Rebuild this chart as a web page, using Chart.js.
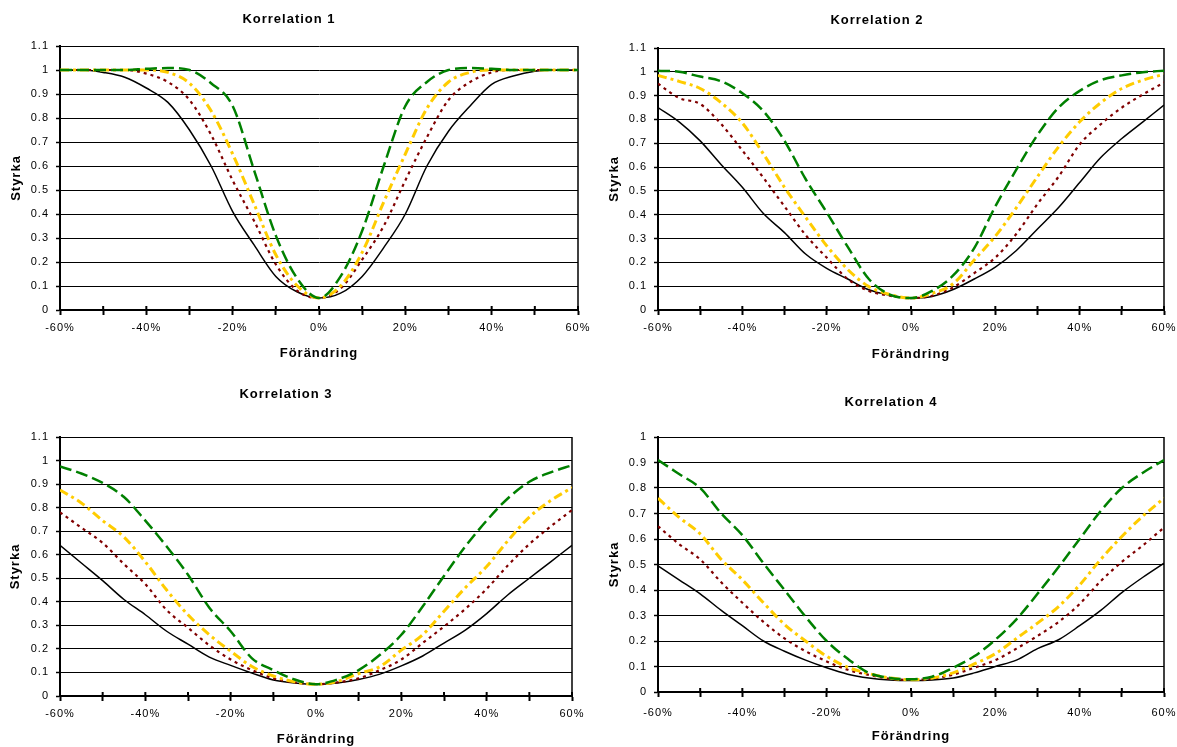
<!DOCTYPE html>
<html><head><meta charset="utf-8">
<script src="https://cdn.jsdelivr.net/npm/chart.js@4.4.1/dist/chart.umd.min.js"></script>
<style>
html,body{margin:0;padding:0;background:#fff;}
#wrap{position:relative;width:1177px;height:747px;overflow:hidden;background:#fff;}
canvas{position:absolute;}
</style></head><body>
<div id="wrap">
<canvas id="c1" width="590" height="372" style="left:0;top:0"></canvas>
<canvas id="c2" width="587" height="372" style="left:590px;top:0"></canvas>
<canvas id="c3" width="590" height="375" style="left:0;top:372px"></canvas>
<canvas id="c4" width="587" height="375" style="left:590px;top:372px"></canvas>
</div>
<script>
// ---- data ----
const changes = [-60,-55,-50,-45,-40,-35,-30,-25,-20,-15,-10,-5,0,5,10,15,20,25,30,35,40,45,50,55,60];
const xTickValues = [-60,-50,-40,-30,-20,-10,0,10,20,30,40,50,60];
const titles = ['Korrelation 1','Korrelation 2','Korrelation 3','Korrelation 4'];
const yAxisTitle = 'Styrka';
const xAxisTitle = 'Förändring';
const yMaxima = [1.1, 1.1, 1.1, 1.0];

const corr1Solid   = [1.0,1.0,0.99,0.97,0.925,0.865,0.75,0.6,0.41,0.27,0.14,0.075,0.05,0.07,0.14,0.26,0.40,0.60,0.745,0.85,0.94,0.975,0.995,1.0,1.0];
const corr1Dotted  = [1.0,1.0,1.0,1.0,0.985,0.95,0.875,0.73,0.54,0.37,0.19,0.08,0.05,0.09,0.21,0.35,0.54,0.72,0.875,0.95,0.99,1.0,1.0,1.0,1.0];
const corr1DashDot = [1.0,1.0,1.0,1.0,1.0,0.99,0.945,0.83,0.65,0.44,0.23,0.10,0.05,0.10,0.24,0.45,0.65,0.84,0.95,0.99,1.0,1.0,1.0,1.0,1.0];
const corr1Dashed  = [1.0,1.0,1.0,1.0,1.005,1.008,1.0,0.945,0.85,0.58,0.31,0.13,0.05,0.14,0.33,0.60,0.85,0.95,1.0,1.008,1.005,1.0,1.0,1.0,1.0];

const corr2Solid   = [0.85,0.79,0.71,0.61,0.515,0.405,0.325,0.235,0.175,0.13,0.085,0.062,0.05,0.057,0.086,0.13,0.18,0.25,0.34,0.43,0.535,0.64,0.72,0.79,0.86];
const corr2Dotted  = [0.95,0.89,0.865,0.78,0.67,0.555,0.435,0.315,0.22,0.13,0.08,0.06,0.05,0.06,0.095,0.155,0.22,0.32,0.445,0.56,0.695,0.78,0.85,0.905,0.955];
const corr2DashDot = [0.985,0.96,0.93,0.87,0.785,0.655,0.515,0.39,0.27,0.17,0.098,0.065,0.05,0.07,0.11,0.21,0.31,0.43,0.56,0.685,0.79,0.87,0.93,0.965,0.99];
const corr2Dashed  = [1.005,1.0,0.98,0.96,0.91,0.835,0.71,0.55,0.41,0.265,0.13,0.065,0.05,0.08,0.145,0.26,0.435,0.59,0.735,0.85,0.92,0.965,0.985,0.998,1.005];

const corr3Solid   = [0.64,0.565,0.49,0.41,0.345,0.275,0.22,0.165,0.13,0.097,0.068,0.055,0.05,0.055,0.07,0.093,0.128,0.17,0.225,0.28,0.35,0.43,0.50,0.57,0.64];
const corr3Dotted  = [0.78,0.715,0.65,0.56,0.475,0.365,0.29,0.215,0.155,0.11,0.075,0.058,0.05,0.058,0.075,0.11,0.155,0.225,0.295,0.37,0.455,0.555,0.645,0.72,0.79];
const corr3DashDot = [0.875,0.82,0.745,0.675,0.57,0.45,0.345,0.26,0.19,0.125,0.085,0.06,0.05,0.062,0.095,0.125,0.195,0.26,0.36,0.46,0.55,0.66,0.76,0.83,0.885];
const corr3Dashed  = [0.975,0.945,0.905,0.845,0.745,0.635,0.515,0.375,0.275,0.16,0.11,0.07,0.05,0.07,0.11,0.175,0.26,0.38,0.51,0.635,0.745,0.84,0.91,0.95,0.98];

const corr4Solid   = [0.495,0.44,0.385,0.32,0.26,0.20,0.16,0.125,0.095,0.07,0.055,0.047,0.045,0.047,0.055,0.075,0.10,0.125,0.17,0.205,0.26,0.32,0.39,0.45,0.505];
const corr4Dotted  = [0.65,0.58,0.52,0.43,0.35,0.275,0.21,0.16,0.12,0.087,0.067,0.052,0.047,0.052,0.068,0.095,0.125,0.17,0.22,0.275,0.345,0.435,0.51,0.575,0.645];
const corr4DashDot = [0.76,0.685,0.62,0.52,0.44,0.35,0.265,0.2,0.14,0.097,0.072,0.055,0.048,0.055,0.075,0.11,0.15,0.21,0.27,0.335,0.42,0.52,0.61,0.69,0.76];
const corr4Dashed  = [0.91,0.855,0.80,0.70,0.615,0.505,0.40,0.295,0.20,0.13,0.075,0.055,0.05,0.06,0.095,0.14,0.205,0.285,0.385,0.49,0.60,0.71,0.80,0.86,0.91];

// ---- styles ----
const seriesStyles = [
  {color:'#000000', width:1.5, dash:[]},
  {color:'#800000', width:2.2, dash:[3,4]},
  {color:'#FFCC00', width:3, dash:[9,4,3,4]},
  {color:'#008000', width:2.5, dash:[12,5]}
];

Chart.defaults.font.family = "'Liberation Sans', Arial, sans-serif";
Chart.defaults.color = '#000';

const framePlugin = {
  id: 'frame',
  beforeDraw(chart){ chart.ctx.letterSpacing = '1px'; },
  beforeDatasetsDraw(chart){
    const {ctx, chartArea, scales} = chart;
    ctx.save();
    ctx.strokeStyle = '#000';
    ctx.lineWidth = 1.5;
    ctx.beginPath();
    ctx.moveTo(chartArea.right, chartArea.top);
    ctx.lineTo(chartArea.right, chartArea.bottom);
    ctx.stroke();
    ctx.lineWidth = 2;
    ctx.beginPath();
    scales.x.ticks.forEach(t => {
      const px = scales.x.getPixelForValue(t.value);
      ctx.moveTo(px, chartArea.bottom - 4);
      ctx.lineTo(px, chartArea.bottom);
    });
    ctx.stroke();
    ctx.restore();
  }
};

function makeChart(id, idx, series, L) {
  const datasets = series.map((arr, i) => ({
    data: changes.map((x, k) => ({x: x, y: arr[k]})),
    borderColor: seriesStyles[i].color,
    borderWidth: seriesStyles[i].width,
    borderDash: seriesStyles[i].dash,
    pointRadius: 0,
    fill: false,
    cubicInterpolationMode: 'monotone',
    order: 4 - i
  }));
  return new Chart(document.getElementById(id), {
    type: 'line',
    data: {datasets},
    options: {
      responsive: false,
      animation: false,
      devicePixelRatio: 1,
      layout: {padding: {left: L.padL, right: L.padR, top: 0, bottom: 0}},
      plugins: {
        legend: {display: false},
        tooltip: {enabled: false},
        title: {display: true, text: titles[idx], color: '#000',
          font: {size: 13, weight: 'bold', lineHeight: 1.2},
          padding: {top: L.tTop, bottom: L.tBottom}}
      },
      scales: {
        x: {
          type: 'linear', min: -60, max: 60,
          afterBuildTicks: s => { s.ticks = xTickValues.map(v => ({value: v})); },
          afterFit: s => { s.height = L.xH; s.paddingLeft = 0; s.paddingRight = L.xPadR || 0; },
          grid: {drawOnChartArea: false, drawTicks: true, tickLength: 5, tickWidth: 2, tickColor: '#000'},
          border: {display: true, color: '#000', width: 2},
          ticks: {autoSkip: false, maxRotation: 0, padding: L.xTickPad, font: {size: 11},
            callback: v => (v % 20 === 0 ? v + '%' : '')},
          title: {display: true, text: xAxisTitle, color: '#000',
            font: {size: 13, weight: 'bold', lineHeight: 1.2}, padding: {top: 0, bottom: L.xTitlePB}}
        },
        y: {
          min: 0, max: yMaxima[idx],
          afterFit: s => { s.width = L.yW; s.paddingTop = 0; s.paddingBottom = 0; },
          grid: {color: '#000', lineWidth: 1, tickLength: 4, tickWidth: 1.5, tickColor: '#000'},
          border: {display: true, color: '#000', width: 2},
          ticks: {stepSize: 0.1, padding: 7, font: {size: 11},
            callback: v => String(Math.round(v * 10) / 10)},
          title: {display: true, text: yAxisTitle, color: '#000',
            font: {size: 13, weight: 'bold', lineHeight: 1.2}, padding: {top: L.yTitlePT, bottom: 0}}
        }
      }
    },
    plugins: [framePlugin]
  });
}

makeChart('c1', 0, [corr1Solid, corr1Dotted, corr1DashDot, corr1Dashed],
  {padL:0, padR:12, yW:60, tTop:11.2, tBottom:19.2, xH:62, xTitlePB:11.2, yTitlePT:8.2, xTickPad:6});
makeChart('c2', 1, [corr2Solid, corr2Dotted, corr2DashDot, corr2Dashed],
  {padL:0, padR:13, yW:68, tTop:12.2, tBottom:20.2, xH:62, xTitlePB:10.2, yTitlePT:16.2, xTickPad:6});
makeChart('c3', 2, [corr3Solid, corr3Dotted, corr3DashDot, corr3Dashed],
  {padL:0, padR:18, yW:60, tTop:14.2, tBottom:35.2, xH:51, xTitlePB:0.2, yTitlePT:7.2, xTickPad:6});
makeChart('c4', 3, [corr4Solid, corr4Dotted, corr4DashDot, corr4Dashed],
  {padL:15, padR:0, xPadR:13, yW:53, tTop:22.2, tBottom:27.2, xH:55, xTitlePB:3.2, yTitlePT:1.2, xTickPad:9});
</script>
</body></html>
